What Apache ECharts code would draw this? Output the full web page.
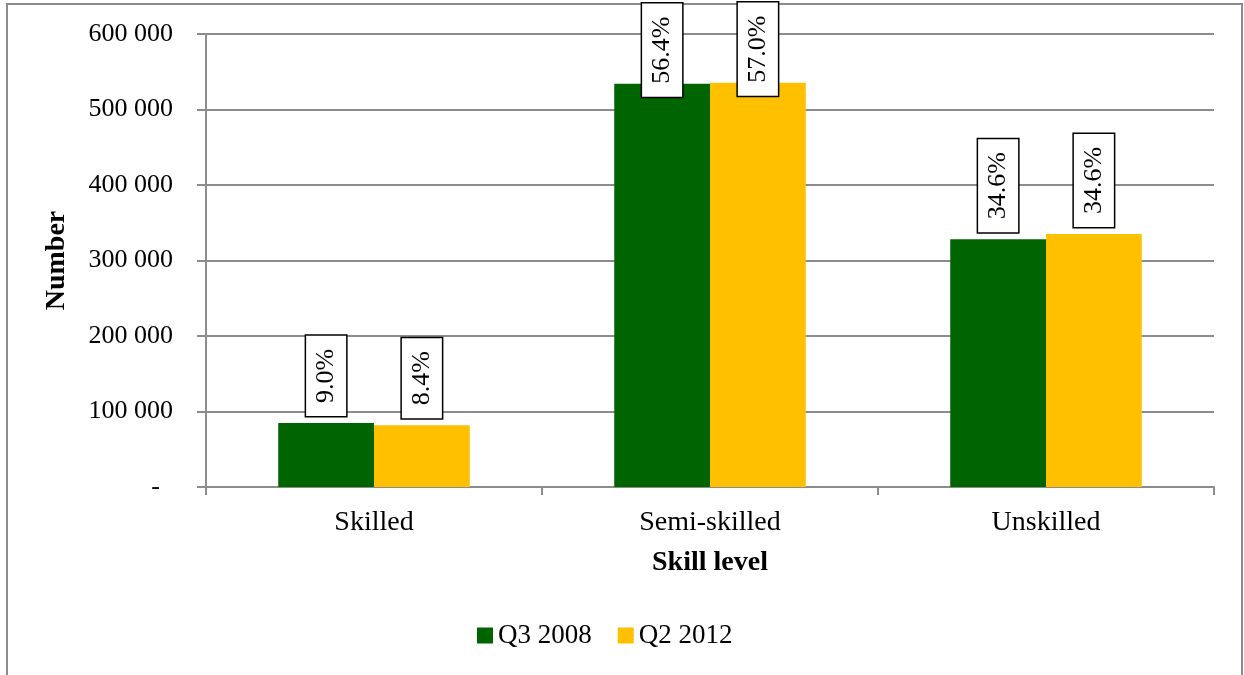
<!DOCTYPE html>
<html>
<head>
<meta charset="utf-8">
<title>Employment by skill level</title>
<script src="https://cdn.jsdelivr.net/npm/echarts@6/dist/echarts.min.js"></script>
<style>
  html, body { margin: 0; padding: 0; background: #ffffff; }
  #chart { width: 1244px; height: 675px; }
</style>
</head>
<body>
<div id="chart"></div>
<script>
// Skill levels on the category axis
const categories = ['Skilled', 'Semi-skilled', 'Unskilled'];

// Number of workers per skill level
const q3_2008 = [84800, 534200, 328000];
const q2_2012 = [81700, 535500, 335000];

// Share of the total for each period, shown above the bars
const shareQ3_2008 = ['9.0%', '56.4%', '34.6%'];
const shareQ2_2012 = ['8.4%', '57.0%', '34.6%'];

// Value axis ticks
const yMin = 0;
const yMax = 600000;
const yStep = 100000;

const FONT = 'Liberation Serif';
const GRID_GRAY = '#8c8c8c';

function fmtNumber(v) {
  if (v === 0) return '-\u2002';
  return String(v).replace(/\B(?=(\d{3})+(?!\d))/g, ' ');
}

// Boxed, vertical share labels; tall bars get their label tucked inside the top
function buildData(values, shares) {
  return values.map((v, i) => {
    const item = { value: v, share: shares[i] };
    if (v > 450000) {
      item.label = { position: 'insideTop', distance: 13 };
    }
    return item;
  });
}

const labelStyle = {
  show: true,
  position: 'top',
  distance: 7,
  rotate: 90,
  align: 'left',
  verticalAlign: 'middle',
  fontFamily: FONT,
  fontSize: 26,
  lineHeight: 26,
  color: '#000',
  backgroundColor: '#fff',
  borderColor: '#000',
  borderWidth: 1.5,
  padding: [7, 13, 7, 13],
  formatter: p => p.data.share
};

const chart = echarts.init(document.getElementById('chart'), null, { renderer: 'canvas' });

chart.setOption({
  animation: false,
  backgroundColor: '#ffffff',
  textStyle: { fontFamily: FONT },
  graphic: [{
    type: 'rect',
    shape: { x: 7, y: 4, width: 1235, height: 700 },
    style: { fill: 'none', stroke: GRID_GRAY, lineWidth: 2 },
    silent: true,
    z: -1
  }],
  grid: { left: 206, right: 30, top: 34, bottom: 188, containLabel: false },
  legend: {
    left: 477,
    top: 622,
    padding: 0,
    itemWidth: 16,
    itemHeight: 16,
    itemGap: 26,
    icon: 'rect',
    textStyle: { fontFamily: FONT, fontSize: 27, color: '#000' },
    data: ['Q3 2008', 'Q2 2012']
  },
  xAxis: {
    type: 'category',
    data: categories,
    name: 'Skill level',
    nameLocation: 'middle',
    nameGap: 62,
    nameTextStyle: { fontFamily: FONT, fontSize: 28, fontWeight: 'bold', color: '#000' },
    axisLine: { lineStyle: { color: GRID_GRAY, width: 2 } },
    axisTick: { show: true, length: 8, lineStyle: { color: GRID_GRAY, width: 2 } },
    axisLabel: { fontFamily: FONT, fontSize: 28, color: '#000', margin: 22 }
  },
  yAxis: {
    type: 'value',
    min: yMin,
    max: yMax,
    interval: yStep,
    name: 'Number',
    nameLocation: 'middle',
    nameGap: 135,
    nameTextStyle: { fontFamily: FONT, fontSize: 28, fontWeight: 'bold', color: '#000' },
    axisLine: { show: true, lineStyle: { color: GRID_GRAY, width: 2 } },
    axisTick: { show: true, length: 9, lineStyle: { color: GRID_GRAY, width: 2 } },
    splitLine: { lineStyle: { color: GRID_GRAY, width: 2 } },
    axisLabel: { fontFamily: FONT, fontSize: 26, color: '#000', margin: 33, formatter: fmtNumber }
  },
  series: [
    {
      name: 'Q3 2008',
      type: 'bar',
      barGap: '0%',
      barCategoryGap: '43%',
      itemStyle: { color: '#006400' },
      label: labelStyle,
      data: buildData(q3_2008, shareQ3_2008)
    },
    {
      name: 'Q2 2012',
      type: 'bar',
      barGap: '0%',
      barCategoryGap: '43%',
      itemStyle: { color: '#FFC000' },
      label: labelStyle,
      data: buildData(q2_2012, shareQ2_2012)
    }
  ]
});
</script>
</body>
</html>
